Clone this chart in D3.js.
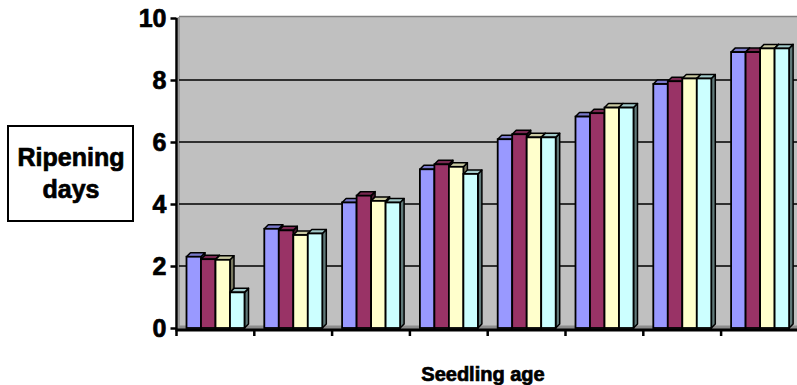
<!DOCTYPE html>
<html>
<head>
<meta charset="utf-8">
<script src="https://cdn.jsdelivr.net/npm/d3@7"></script>
<style>
  body { margin: 0; background: #fff; }
  svg { display: block; font-family: 'Liberation Sans', Arial, sans-serif; font-weight: bold; }
  .heavy { stroke: #000; stroke-width: 0.7px; }
</style>
</head>
<body>
<div id="chart"></div>
<script>
// Seedling age groups (no labels shown on the axis)
const seedlingAges = ['1', '2', '3', '4', '5', '6', '7', '8'];
// Four series, one color each
const seriesNames = ['Series 1', 'Series 2', 'Series 3', 'Series 4'];
const seriesColors = ['#9999FF', '#993366', '#FFFFCC', '#CCFFFF'];
// Ripening days for each series
const series1 = [2.3, 3.2, 4.05, 5.12, 6.09, 6.82, 7.87, 8.9];
const series2 = [2.22, 3.15, 4.27, 5.28, 6.25, 6.93, 7.96, 8.9];
const series3 = [2.2, 3.0, 4.1, 5.2, 6.15, 7.11, 8.05, 9.02];
const series4 = [1.15, 3.05, 4.05, 4.97, 6.15, 7.11, 8.05, 9.02];
// Y axis ticks
const yTicks = [0, 2, 4, 6, 8, 10];

const allSeries = [series1, series2, series3, series4];

const width = 797;
const height = 385;

// plot geometry
const axisX = 176.5;
const wallTop = 16;
const depthX = 4;
const depthY = 4;

const svg = d3.select('#chart').append('svg')
    .attr('width', width)
    .attr('height', height);

// Scales
const xScale = d3.scaleBand()
    .domain(seedlingAges)
    .range([axisX, axisX + 8 * 77.8])
    .padding(0);

const inner = d3.scaleBand()
    .domain(seriesNames)
    .range([10, 68])
    .padding(0);

const yScale = d3.scaleLinear()
    .domain([0, 10])
    .range([328, 18]);

// Back wall
svg.append('rect')
    .attr('x', axisX + 2.5)
    .attr('y', wallTop)
    .attr('width', width)
    .attr('height', yScale(0) - wallTop + 2)
    .attr('fill', '#C0C0C0');

svg.append('line')
    .attr('x1', axisX + 2.5).attr('x2', width)
    .attr('y1', wallTop + 0.5).attr('y2', wallTop + 0.5)
    .attr('stroke', '#808080')
    .attr('stroke-width', 1.5);

// Left wall strip
svg.append('rect')
    .attr('x', axisX + 1)
    .attr('y', wallTop + 1)
    .attr('width', 2.5)
    .attr('height', yScale(0) - wallTop)
    .attr('fill', '#9a9a9a');

// Floor strip
svg.append('polygon')
    .attr('points', [
        [axisX, yScale(0) + 1.5], [width, yScale(0) + 1.5],
        [width, yScale(0) - 2.5], [axisX + 3, yScale(0) - 2.5]
    ].join(' '))
    .attr('fill', '#8c8c8c');

// Gridlines
svg.selectAll('.grid')
    .data(yTicks.filter(t => t > 0 && t < 10))
    .enter().append('line')
    .attr('class', 'grid')
    .attr('x1', axisX + 2.5)
    .attr('x2', width)
    .attr('y1', d => yScale(d))
    .attr('y2', d => yScale(d))
    .attr('stroke', '#000')
    .attr('stroke-width', 1.6);

// 3D bars, drawn left to right so each front covers the previous side
const bars = [];
seedlingAges.forEach((age, i) => {
    seriesNames.forEach((name, j) => {
        bars.push({ age: age, name: name, color: seriesColors[j], value: allSeries[j][i] });
    });
});

const barG = svg.selectAll('.bar')
    .data(bars)
    .enter().append('g')
    .attr('class', 'bar');

barG.each(function (d) {
    const g = d3.select(this);
    const x0 = xScale(d.age) + inner(d.name);
    const w = inner.bandwidth();
    const yt = yScale(d.value);
    const yb = yScale(0);
    const base = d3.color(d.color);

    // right side face
    g.append('polygon')
        .attr('points', [[x0 + w, yt], [x0 + w + depthX, yt - depthY],
            [x0 + w + depthX, yb - depthY], [x0 + w, yb]].join(' '))
        .attr('fill', base.darker(2.1))
        .attr('stroke', '#000')
        .attr('stroke-width', 1.5)
        .attr('stroke-linejoin', 'round');

    // top face
    g.append('polygon')
        .attr('points', [[x0, yt], [x0 + depthX, yt - depthY],
            [x0 + w + depthX, yt - depthY], [x0 + w, yt]].join(' '))
        .attr('fill', base.darker(0.65))
        .attr('stroke', '#000')
        .attr('stroke-width', 1.5)
        .attr('stroke-linejoin', 'round');

    // front face
    g.append('rect')
        .attr('x', x0)
        .attr('y', yt)
        .attr('width', w)
        .attr('height', yb - yt)
        .attr('fill', d.color)
        .attr('stroke', '#000')
        .attr('stroke-width', 1.8);
});

// Y axis
const yAxis = svg.append('g')
    .attr('transform', `translate(${axisX}, 0)`)
    .call(d3.axisLeft(yScale).tickValues(yTicks).tickSize(6).tickPadding(4));
yAxis.select('.domain')
    .attr('d', `M0,${yScale(10)}V${yScale(0) + 2}`)
    .attr('stroke-width', 2.5);
yAxis.selectAll('.tick line').attr('stroke-width', 2.5);
yAxis.selectAll('.tick text')
    .attr('class', 'heavy')
    .attr('font-size', 25)
    .attr('font-family', "'Liberation Sans', Arial, sans-serif")
    .attr('font-weight', 'bold')
    .attr('fill', '#000');

// X axis (tick marks at group boundaries, no labels)
svg.append('line')
    .attr('x1', axisX - 1).attr('x2', width)
    .attr('y1', yScale(0) + 2).attr('y2', yScale(0) + 2)
    .attr('stroke', '#000')
    .attr('stroke-width', 3);

svg.selectAll('.xtick')
    .data(seedlingAges)
    .enter().append('line')
    .attr('class', 'xtick')
    .attr('x1', d => xScale(d))
    .attr('x2', d => xScale(d))
    .attr('y1', yScale(0) + 2)
    .attr('y2', yScale(0) + 8)
    .attr('stroke', '#000')
    .attr('stroke-width', 2.5);

// Y axis title box
svg.append('rect')
    .attr('x', 8)
    .attr('y', 126)
    .attr('width', 125)
    .attr('height', 95)
    .attr('fill', '#fff')
    .attr('stroke', '#000')
    .attr('stroke-width', 2);

svg.append('text')
    .attr('class', 'heavy')
    .attr('x', 71)
    .attr('y', 166)
    .attr('text-anchor', 'middle')
    .attr('font-size', 25)
    .text('Ripening');

svg.append('text')
    .attr('class', 'heavy')
    .attr('x', 71)
    .attr('y', 198)
    .attr('text-anchor', 'middle')
    .attr('font-size', 25)
    .text('days');

// X axis title
svg.append('text')
    .attr('class', 'heavy')
    .attr('x', 483)
    .attr('y', 381)
    .attr('text-anchor', 'middle')
    .attr('font-size', 20)
    .text('Seedling age');
</script>
</body>
</html>
